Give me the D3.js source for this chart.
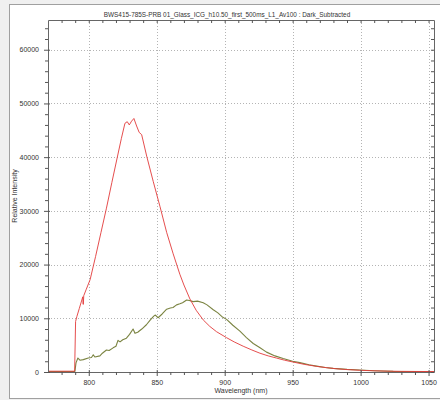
<!DOCTYPE html>
<html>
<head>
<meta charset="utf-8">
<script src="https://cdn.jsdelivr.net/npm/d3@7"></script>
<style>
  body { margin: 0; background: #f0f0f0; }
  svg { display: block; font-family: "Liberation Sans", Arial, sans-serif; }
</style>
</head>
<body>
<div id="chart"></div>
<script>
// Spectrum data
const titleText = "BWS415-785S-PRB  01_Glass_ICG_h10.50_first_500ms_L1_Av100 : Dark_Subtracted";
const xTicks = [800, 850, 900, 950, 1000, 1050];
const yTicks = [0, 10000, 20000, 30000, 40000, 50000, 60000];

const redWl = [770, 780, 789.6, 790.3, 791.2, 793, 795.6, 795.8, 796, 796.3, 798, 801, 805, 809, 813, 817, 821, 824,
  826.6, 828.3, 829.8, 831.5, 833.2, 835.2, 837.1, 838.9, 842.6, 847.4, 852.4, 857.3, 862.1, 867, 870, 874.4, 879,
  884.2, 889, 894, 901.3, 907, 913.6, 920, 925.9, 932, 938.1, 944, 950.4, 959, 967.6, 975, 982.3, 990, 999.4, 1010,
  1020, 1030, 1040, 1054];
const redVal = [150, 150, 150, 9400, 10300, 11800, 14000, 12600, 12600, 14200, 15300, 17200, 21500, 26000, 30500,
  35300, 40000, 43500, 46300, 46600, 46000, 46700, 47200, 45800, 44600, 44200, 40200, 35500, 30800, 26000, 22000,
  18200, 16200, 13600, 11500, 9700, 8500, 7500, 6400, 5600, 4800, 4100, 3500, 3000, 2600, 2200, 1850, 1400, 1050,
  800, 600, 450, 320, 220, 160, 120, 100, 80];

const greenWl = [770, 789.8, 790.6, 792, 793.5, 796, 799.6, 802, 803.3, 804.5, 808.2, 810, 813, 815, 817.9, 820, 821.5,
  823, 825, 827.7, 830, 832.6, 834, 836, 839, 842.4, 845, 847.8, 849, 851, 854, 857.3, 860, 862, 864.6, 867, 869,
  872, 874, 876.8, 880, 884.2, 887, 891.6, 895, 898, 901.4, 906, 911.2, 916, 921, 926, 930.8, 937, 943, 950, 955.3,
  962, 967.6, 974, 979.8, 990, 999.4, 1010, 1024, 1040, 1054];
const greenVal = [100, 100, 1700, 2600, 2200, 2300, 2600, 2700, 3200, 2800, 3000, 3500, 4100, 4000, 4500, 4800, 5900,
  5600, 6000, 6300, 7000, 8000, 7200, 7400, 8000, 8800, 9600, 10400, 10600, 10100, 10800, 11700, 11900, 12000, 12500,
  12700, 12900, 13400, 13300, 13100, 13200, 12900, 12500, 11600, 11000, 10300, 9800, 8700, 7600, 6400, 5300, 4500,
  3700, 3000, 2500, 2000, 1750, 1350, 1100, 850, 680, 480, 370, 240, 120, 80, 60];

const width = 440;
const height = 400;
const marginTop = 20;
const marginRight = 6;
const marginBottom = 28;
const marginLeft = 48;

const x = d3.scaleLinear().domain([770, 1054]).range([marginLeft, width - marginRight]);
const y = d3.scaleLinear().domain([0, 65535]).range([height - marginBottom, marginTop]);

const svg = d3.select("#chart").append("svg")
  .attr("width", width)
  .attr("height", height)
  .attr("viewBox", [0, 0, width, height]);

// panel
svg.append("rect").attr("x", 9.5).attr("y", 4.5).attr("width", 440).attr("height", 394)
  .attr("fill", "#fff").attr("stroke", "#a0a0a0");

// title
svg.append("text")
  .attr("x", 227).attr("y", 16.5)
  .attr("text-anchor", "middle")
  .attr("fill", "#333")
  .style("font-size", "6.4px")
  .text(titleText);

// grid
const grid = svg.append("g").attr("stroke", "#b4b4b4").attr("stroke-dasharray", "1,2");
grid.selectAll(".gx").data(xTicks).join("line")
  .attr("x1", d => Math.round(x(d)) + 0.5).attr("x2", d => Math.round(x(d)) + 0.5)
  .attr("y1", marginTop).attr("y2", height - marginBottom);
grid.selectAll(".gy").data(yTicks.slice(1)).join("line")
  .attr("y1", d => Math.round(y(d)) + 0.5).attr("y2", d => Math.round(y(d)) + 0.5)
  .attr("x1", marginLeft).attr("x2", width - marginRight);

// lines
const line = d3.line().x(d => x(d[0])).y(d => y(d[1]));
svg.append("path")
  .datum(greenWl.map((w, i) => [w, greenVal[i]]))
  .attr("fill", "none").attr("stroke", "#7b8442").attr("stroke-width", 1.1)
  .attr("stroke-linejoin", "round")
  .attr("d", line);
svg.append("path")
  .datum(redWl.map((w, i) => [w, redVal[i]]))
  .attr("fill", "none").attr("stroke", "#e23a3a").attr("stroke-width", 0.9)
  .attr("d", line);

// axes
const minorX = d3.range(780, 1054, 10).filter(d => d % 50 !== 0);
const minorY = d3.range(2000, 65535, 2000).filter(d => d % 10000 !== 0);

function styleAxis(g) {
  g.select(".domain").attr("stroke", "#666");
  g.selectAll(".tick line").attr("stroke", "#555");
  g.selectAll(".tick text").attr("fill", "#333").style("font-size", "7px").style("font-family", "Liberation Sans, Arial, sans-serif");
}

const bottom = svg.append("g")
  .attr("transform", `translate(0,${height - marginBottom})`)
  .call(d3.axisBottom(x).tickValues(xTicks).tickSize(4).tickSizeOuter(0).tickPadding(4).tickFormat(d3.format("d")))
  .call(styleAxis);
bottom.selectAll(".tick line").attr("y1", -2);
svg.append("g")
  .attr("transform", `translate(0,${height - marginBottom})`)
  .call(d3.axisBottom(x).tickValues(minorX).tickSize(3).tickSizeOuter(0).tickFormat(""))
  .call(styleAxis).select(".domain").remove();

const left = svg.append("g")
  .attr("transform", `translate(${marginLeft},0)`)
  .call(d3.axisLeft(y).tickValues(yTicks).tickSize(4).tickSizeOuter(0).tickPadding(5).tickFormat(d3.format("d")))
  .call(styleAxis);
left.selectAll(".tick line").attr("x1", 2);
svg.append("g")
  .attr("transform", `translate(${marginLeft},0)`)
  .call(d3.axisLeft(y).tickValues(minorY).tickSize(3).tickSizeOuter(0).tickFormat(""))
  .call(styleAxis).select(".domain").remove();

svg.append("g")
  .attr("transform", `translate(0,${marginTop})`)
  .call(d3.axisTop(x).tickValues(xTicks.concat(minorX)).tickSize(-3).tickSizeOuter(0).tickFormat(""))
  .call(styleAxis);
svg.append("g")
  .attr("transform", `translate(${width - marginRight},0)`)
  .call(d3.axisRight(y).tickValues(yTicks.concat(minorY)).tickSize(-3).tickSizeOuter(0).tickFormat(""))
  .call(styleAxis);

// axis titles
svg.append("text")
  .attr("x", (marginLeft + width - marginRight) / 2).attr("y", 393)
  .attr("text-anchor", "middle").attr("fill", "#333")
  .style("font-size", "7px")
  .text("Wavelength (nm)");
svg.append("text")
  .attr("transform", `translate(17,${(marginTop + height - marginBottom) / 2}) rotate(-90)`)
  .attr("text-anchor", "middle").attr("fill", "#333")
  .style("font-size", "7px")
  .text("Relative Intensity");
</script>
</body>
</html>
